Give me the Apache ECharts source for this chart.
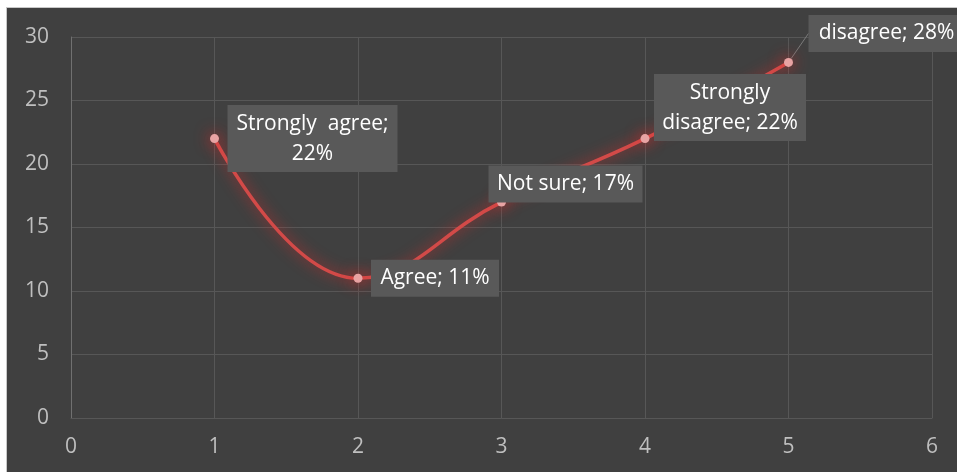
<!DOCTYPE html>
<html>
<head>
<meta charset="utf-8">
<script src="https://cdn.jsdelivr.net/npm/echarts@6/dist/echarts.min.js"></script>
<style>
  html, body { margin: 0; padding: 0; background: #ffffff; }
  #chart {
    position: absolute; left: 6px; top: 7px;
    width: 951px; height: 465px;
    border-left: 1px solid #c8c8c8; border-top: 1px solid #c8c8c8;
  }
</style>
</head>
<body>
<div id="chart"></div>
<script>
// survey answers, x = answer number, y = percent
const xValues = [1, 2, 3, 4, 5];
const yValues = [22, 11, 17, 22, 28];
const labelTexts = ['Strongly  agree;\n22%', 'Agree; 11%', 'Not sure; 17%', 'Strongly\ndisagree; 22%', 'disagree; 28%'];
const xTicks = { min: 0, max: 6, interval: 1 };
const yTicks = { min: 0, max: 30, interval: 5 };

// label box placement (style only)
const labelBoxes = [
  { offset: [98, 0], width: 170 },
  { offset: [77, 0], width: 128 },
  { offset: [64, -18], width: 154 },
  { offset: [85, -31], width: 152 },
  { offset: [98, -29], width: 156, line: true }
];

const myChart = echarts.init(document.getElementById('chart'));

const points = xValues.map((x, i) => ({
  value: [x, yValues[i]],
  label: {
    formatter: labelTexts[i],
    offset: labelBoxes[i].offset,
    width: labelBoxes[i].width
  },
  labelLine: { show: !!labelBoxes[i].line }
}));

const axisFont = { color: '#bfbfbf', fontSize: 21, fontFamily: 'Open Sans' };

myChart.setOption({
  backgroundColor: '#404040',
  animation: false,
  grid: { left: 64, right: 26, top: 29, bottom: 55 },
  xAxis: {
    type: 'value',
    min: xTicks.min, max: xTicks.max, interval: xTicks.interval,
    axisLine: { show: true, lineStyle: { color: '#575757', width: 1 } },
    axisTick: { show: false },
    axisLabel: Object.assign({ margin: 19 }, axisFont),
    splitLine: { show: true, lineStyle: { color: '#575757', width: 1 } }
  },
  yAxis: {
    type: 'value',
    min: yTicks.min, max: yTicks.max, interval: yTicks.interval,
    axisLine: { show: true, lineStyle: { color: '#707070', width: 1 } },
    axisTick: { show: false },
    axisLabel: Object.assign({ margin: 22 }, axisFont),
    splitLine: { show: true, lineStyle: { color: '#575757', width: 1 } }
  },
  series: [
    {
      type: 'line',
      data: points,
      smooth: 0.45,
      symbol: 'circle',
      symbolSize: 9,
      lineStyle: {
        color: '#d24a48', width: 3.5,
        shadowColor: 'rgba(230, 40, 40, 0.85)', shadowBlur: 14
      },
      itemStyle: {
        color: '#e8a3a3',
        shadowColor: 'rgba(240, 40, 40, 0.9)', shadowBlur: 16
      },
      label: {
        show: true,
        position: 'inside',
        align: 'center',
        verticalAlign: 'middle',
        color: '#ffffff',
        fontSize: 21,
        fontFamily: 'Open Sans',
        lineHeight: 30,
        padding: [3.5, 0],
        backgroundColor: '#595959'
      },
      labelLine: {
        lineStyle: { color: '#7a7a7a', width: 1 }
      },
      emphasis: { disabled: true }
    }
  ]
});
</script>
</body>
</html>
